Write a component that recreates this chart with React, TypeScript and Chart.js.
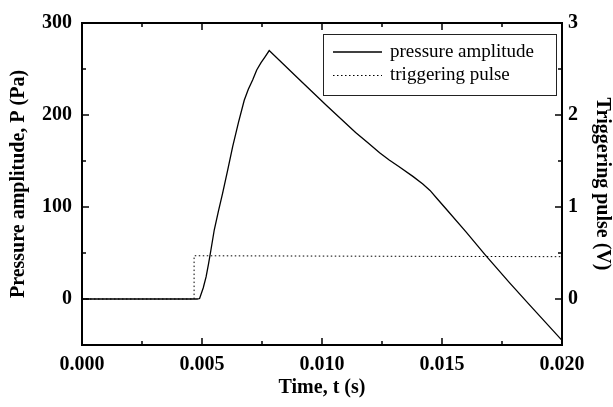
import React, { useEffect, useRef } from "react";
import { Chart, registerables } from "chart.js";

Chart.register(...registerables);

// Time (s) and pressure amplitude (Pa)
const pressureTime = [
  0, 0.0048, 0.0049, 0.00505, 0.00517, 0.00527, 0.00537, 0.00551, 0.00568, 0.00586,
  0.00607, 0.00628, 0.00652, 0.00676, 0.00693, 0.00711, 0.00728, 0.00746, 0.00762, 0.0078,
  0.009, 0.0102, 0.0114, 0.0119, 0.0124, 0.0128, 0.0132, 0.0138, 0.0142, 0.0145, 0.0148, 0.0152,
  0.016, 0.0168, 0.0178, 0.0186, 0.02,
];
const pressureValues = [
  0, 0, 0.5, 12, 24, 38, 53, 75, 95, 115,
  140, 166, 192, 216, 228, 238, 249, 257, 263, 270,
  240, 210, 181, 170, 159, 151, 144, 133, 125, 118, 109, 97,
  73, 48, 18, -5, -45,
];
// Time (s) and triggering pulse (V)
const pulseTime = [0, 0.00467, 0.00467, 0.02];
const pulseValues = [0, 0, 0.47, 0.46];

const legendLabels = ["pressure amplitude", "triggering pulse"];
const xTitle = "Time, t (s)";
const yTitle = "Pressure amplitude, P (Pa)";
const y2Title = "Triggering pulse (V)";

const SERIF = "'Liberation Serif', 'Times New Roman', serif";

const isMult = (v: number, s: number) => Math.abs(v / s - Math.round(v / s)) < 1e-6;

const framePlugin = {
  id: "frame",
  afterDraw(chart: any) {
    const { ctx, chartArea: a, scales } = chart;
    ctx.save();
    ctx.strokeStyle = "#000";
    // inward ticks
    ctx.lineWidth = 1.5;
    const major = 7;
    const minor = 4;
    scales.x.ticks.forEach((t: any) => {
      const px = scales.x.getPixelForValue(t.value);
      const len = isMult(t.value, 0.005) ? major : minor;
      ctx.beginPath();
      ctx.moveTo(px, a.bottom);
      ctx.lineTo(px, a.bottom - len);
      ctx.moveTo(px, a.top);
      ctx.lineTo(px, a.top + len);
      ctx.stroke();
    });
    scales.y.ticks.forEach((t: any) => {
      const py = scales.y.getPixelForValue(t.value);
      const len = isMult(t.value, 100) ? major : minor;
      ctx.beginPath();
      ctx.moveTo(a.left, py);
      ctx.lineTo(a.left + len, py);
      ctx.stroke();
    });
    scales.y2.ticks.forEach((t: any) => {
      const py = scales.y2.getPixelForValue(t.value);
      const len = isMult(t.value, 1) ? major : minor;
      ctx.beginPath();
      ctx.moveTo(a.right, py);
      ctx.lineTo(a.right - len, py);
      ctx.stroke();
    });
    // frame
    ctx.lineWidth = 2;
    ctx.strokeRect(a.left, a.top, a.right - a.left, a.bottom - a.top);

    // legend
    const bx = a.right - 239;
    const by = a.top + 11;
    const bw = 233;
    const bh = 61;
    ctx.lineWidth = 1;
    ctx.strokeStyle = "#222";
    ctx.strokeRect(bx + 0.5, by + 0.5, bw, bh);
    const ds = chart.data.datasets;
    ds.forEach((d: any, i: number) => {
      const ly = by + 18 + i * 23.5;
      ctx.strokeStyle = "#000";
      ctx.lineWidth = d.borderWidth;
      ctx.setLineDash(d.borderDash || []);
      ctx.beginPath();
      ctx.moveTo(bx + 10, ly);
      ctx.lineTo(bx + 59, ly);
      ctx.stroke();
      ctx.setLineDash([]);
      ctx.fillStyle = "#000";
      ctx.font = `19px ${SERIF}`;
      ctx.textBaseline = "middle";
      ctx.textAlign = "left";
      ctx.fillText(d.label, bx + 67, ly);
    });
    ctx.restore();
  },
};

export default function App() {
  const ref = useRef<HTMLCanvasElement | null>(null);
  useEffect(() => {
    if (!ref.current) return;
    const chart = new Chart(ref.current, {
      type: "line",
      data: {
        datasets: [
          {
            label: legendLabels[0],
            data: pressureTime.map((t, i) => ({ x: t, y: pressureValues[i] })),
            borderColor: "#000",
            borderWidth: 1.3,
            pointRadius: 0,
            tension: 0,
            yAxisID: "y",
          },
          {
            label: legendLabels[1],
            data: pulseTime.map((t, i) => ({ x: t, y: pulseValues[i] })),
            borderColor: "#000",
            borderWidth: 1,
            borderDash: [1.5, 2.5],
            pointRadius: 0,
            tension: 0,
            yAxisID: "y2",
          },
        ],
      },
      options: {
        animation: false,
        responsive: false,
        layout: { padding: { top: 23, left: 0, right: 0, bottom: 0 } },
        plugins: { legend: { display: false }, tooltip: { enabled: false } },
        scales: {
          x: {
            type: "linear",
            min: 0,
            max: 0.02,
            grid: { display: false, drawTicks: false },
            border: { display: false },
            ticks: {
              stepSize: 0.0025,
              padding: 8,
              maxRotation: 0,
              autoSkip: false,
              color: "#000",
              font: { family: SERIF, size: 20, weight: "bold" },
              callback: (v: any) => (isMult(Number(v), 0.005) ? Number(v).toFixed(3) : ""),
            },
            title: {
              display: true,
              text: xTitle,
              color: "#000",
              font: { family: SERIF, size: 20, weight: "bold" },
              padding: { top: 0, bottom: 7 },
            },
            afterFit: (s: any) => {
              s.height = 62;
            },
          },
          y: {
            type: "linear",
            position: "left",
            min: -50,
            max: 300,
            grid: { display: false, drawTicks: false },
            border: { display: false },
            ticks: {
              stepSize: 50,
              padding: 10,
              autoSkip: false,
              color: "#000",
              font: { family: SERIF, size: 20, weight: "bold" },
              callback: (v: any) => (isMult(Number(v), 100) ? String(v) : ""),
            },
            title: {
              display: true,
              text: yTitle,
              color: "#000",
              font: { family: SERIF, size: 20, weight: "bold" },
              padding: { top: 7, bottom: 0 },
            },
            afterFit: (s: any) => {
              s.width = 82;
            },
          },
          y2: {
            type: "linear",
            position: "right",
            min: -0.5,
            max: 3,
            grid: { display: false, drawTicks: false },
            border: { display: false },
            ticks: {
              stepSize: 0.5,
              padding: 6,
              autoSkip: false,
              color: "#000",
              font: { family: SERIF, size: 20, weight: "bold" },
              callback: (v: any) => (isMult(Number(v), 1) ? String(v) : ""),
            },
            title: {
              display: true,
              text: y2Title,
              color: "#000",
              font: { family: SERIF, size: 20, weight: "bold" },
              padding: { top: -1, bottom: 0 },
            },
            afterFit: (s: any) => {
              s.width = 51;
            },
          },
        },
      },
      plugins: [framePlugin],
    });
    return () => chart.destroy();
  }, []);
  return (
    <div style={{ position: "absolute", left: 0, top: 0, width: 613, height: 407, background: "#fff" }}>
      <canvas ref={ref} width={613} height={407} style={{ width: 613, height: 407, display: "block" }} />
    </div>
  );
}
